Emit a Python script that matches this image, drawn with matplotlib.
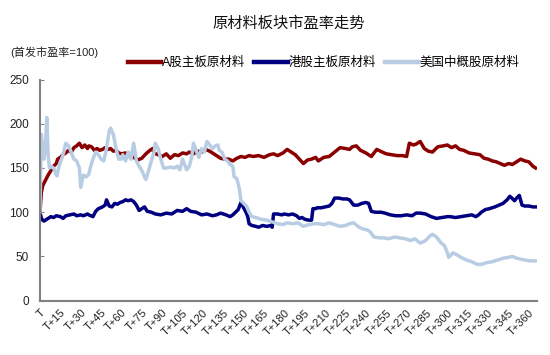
import matplotlib
matplotlib.use('Agg')
import matplotlib.pyplot as plt

plt.rcParams['font.family'] = ['Liberation Sans', 'Noto Sans CJK SC', 'DejaVu Sans']

# (day, value)
a_pts = [(0, 100), (1, 122), (2, 130), (4, 136), (6, 142), (8, 147), (10, 152), (12, 155),
         (13, 160), (15, 162), (17, 165), (19, 167), (21, 170), (23, 168), (25, 173), (27, 175),
         (29, 178), (31, 173), (33, 176), (35, 172), (36, 175), (38, 174), (40, 170), (42, 172),
         (44, 170), (46, 171), (48, 173), (50, 171), (52, 172), (54, 169), (56, 170), (58, 167),
         (60, 166), (63, 167), (66, 163), (69, 162), (72, 159), (75, 161), (78, 166), (81, 170),
         (83, 172), (84, 167), (87, 165), (90, 163), (93, 166), (96, 161), (99, 165), (102, 164),
         (105, 167), (108, 166), (110, 168), (113, 166), (116, 169), (119, 168), (122, 171),
         (125, 169), (128, 166), (131, 163), (133, 161), (136, 160), (139, 160), (142, 158),
         (145, 161), (148, 163), (151, 162), (154, 164), (157, 163), (161, 164), (165, 162),
         (169, 165), (172, 166), (175, 164), (179, 167), (182, 171), (185, 168), (188, 165),
         (191, 160), (194, 155), (197, 159), (200, 160), (203, 162), (205, 158), (209, 162),
         (213, 163), (217, 168), (221, 173), (225, 172), (228, 171), (230, 174), (233, 175),
         (236, 170), (240, 167), (244, 163), (248, 171), (252, 168), (255, 166), (259, 165),
         (263, 164), (267, 164), (270, 163), (272, 178), (275, 176), (277, 177), (280, 180),
         (283, 172), (286, 169), (289, 168), (293, 174), (297, 175), (300, 176), (303, 173),
         (306, 175), (309, 171), (312, 170), (316, 167), (320, 166), (324, 165), (327, 161),
         (330, 160), (333, 158), (336, 157), (339, 155), (342, 153), (345, 155), (348, 154),
         (351, 157), (354, 160), (357, 158), (360, 157), (363, 152), (365, 150)]

h_pts = [(0, 100), (1, 93), (2, 91), (3, 90), (5, 92), (8, 95), (10, 94), (12, 96), (15, 95),
         (17, 93), (19, 96), (22, 97), (25, 98), (27, 96), (30, 97), (32, 96), (35, 98), (36, 97),
         (39, 95), (41, 101), (43, 104), (46, 106), (48, 108), (49, 114), (51, 107), (53, 106),
         (55, 110), (57, 109), (59, 111), (61, 112), (63, 114), (65, 113), (67, 114), (69, 112),
         (71, 108), (73, 102), (75, 104), (77, 106), (79, 101), (82, 100), (85, 98), (89, 97),
         (93, 99), (97, 98), (101, 102), (105, 101), (108, 104), (111, 101), (115, 100),
         (119, 97), (123, 98), (127, 96), (130, 97), (133, 99), (137, 97), (140, 95), (142, 97),
         (144, 100), (146, 103), (148, 111), (150, 105), (152, 99), (153, 95), (154, 87),
         (156, 85), (159, 84), (161, 83), (164, 85), (167, 84), (170, 85), (171, 83), (172, 98),
         (175, 98), (178, 97), (180, 98), (183, 97), (186, 98), (189, 96), (191, 93), (193, 94),
         (195, 92), (198, 91), (200, 91), (201, 104), (203, 104), (204, 105), (207, 105),
         (210, 106), (213, 107), (215, 110), (217, 116), (220, 116), (223, 115), (226, 115),
         (228, 114), (231, 108), (234, 108), (237, 110), (240, 111), (242, 110), (244, 101),
         (247, 100), (251, 100), (254, 99), (258, 97), (262, 96), (266, 96), (270, 97),
         (274, 96), (277, 99), (280, 99), (284, 98), (288, 95), (292, 93), (296, 94), (300, 95),
         (302, 95), (306, 94), (310, 95), (314, 96), (318, 97), (321, 95), (323, 97), (325, 100),
         (328, 103), (331, 104), (335, 106), (338, 108), (341, 110), (344, 114), (346, 118),
         (347.5, 116), (349.5, 113), (351, 116), (353, 119), (355, 108), (357, 107), (360, 107),
         (363, 106), (365, 106)]

u_pts = [(0, 100), (1, 188), (2, 172), (3, 160), (4, 175), (5, 207), (6, 165), (7, 150),
         (8, 152), (10, 150), (11.5, 144), (12.5, 141), (14, 152), (17, 165), (19, 178),
         (21, 175), (23, 168), (25, 160), (27, 158), (29, 150), (30, 128), (32, 142), (34, 140),
         (36, 143), (37, 150), (39, 160), (41, 168), (43, 165), (45, 160), (47, 158), (49, 172),
         (51, 192), (52, 195), (54, 188), (56, 172), (58, 160), (60, 160), (61, 165), (63, 158),
         (65, 168), (67, 160), (69, 178), (71, 158), (73, 152), (75, 147), (77, 140), (78, 137),
         (80, 147), (82, 158), (84, 168), (85, 178), (87, 172), (89, 160), (91, 150), (93, 150),
         (96, 151), (99, 150), (101, 152), (103, 148), (105, 160), (107, 152), (108, 148),
         (110, 152), (112, 165), (113, 178), (115, 170), (117, 162), (119, 172), (121, 168),
         (123, 180), (125, 176), (127, 172), (129, 175), (131, 176), (132, 170), (134, 168),
         (136, 160), (138, 158), (140, 154), (142, 152), (143, 140), (145, 138), (147, 125),
         (148, 113), (150, 110), (152, 107), (154, 100), (156, 95), (159, 94), (163, 92),
         (167, 91), (171, 89), (175, 87), (179, 86), (182, 88), (186, 87), (190, 88), (194, 84),
         (198, 86), (202, 87), (205, 87), (209, 86), (213, 88), (217, 86), (221, 84), (225, 85),
         (228, 87), (231, 88), (235, 83), (238, 81), (241, 80), (243, 78), (246, 72), (250, 71),
         (253, 71), (257, 70), (261, 72), (265, 71), (269, 70), (273, 68), (276, 70), (280, 65),
         (284, 68), (287, 73), (289, 75), (292, 72), (295, 66), (298, 62), (300, 54), (301, 49),
         (304, 54), (307, 52), (310, 49), (314, 46), (318, 44), (322, 41), (325, 41), (329, 43),
         (333, 44), (337, 46), (341, 48), (345, 49), (348, 50), (351, 48), (354, 47), (357, 46),
         (361, 45), (365, 45)]

series_names = ['A股主板原材料', '港股主板原材料', '美国中概股原材料']
series_colors = ['#8B0000', '#000080', '#B8CCE4']

x_ticks = list(range(0, 361, 15))
x_labels = ['T'] + ['T+%d' % t for t in x_ticks[1:]]
y_ticks = [0, 50, 100, 150, 200, 250]

fig = plt.figure(figsize=(5.5, 3.55), dpi=100)
ax = fig.add_axes([0.0727, 0.153, 0.9036, 0.623])

for pts, name, c in zip([a_pts, h_pts, u_pts], series_names, series_colors):
    days = [p[0] for p in pts]
    vals = [p[1] for p in pts]
    ax.plot(days, vals, color=c, lw=2.5, label=name)

ax.set_xlim(0, 366)
ax.set_ylim(0, 250)
ax.set_yticks(y_ticks)
ax.set_xticks(x_ticks)
ax.set_xticklabels(x_labels, rotation=45, ha='right', rotation_mode='anchor', fontsize=8)
ax.tick_params(axis='y', direction='in', length=3, color='#808080', labelsize=8.5,
               labelcolor='#222222', pad=8)
ax.tick_params(axis='x', length=0, labelsize=8, labelcolor='#222222', pad=5)

for s in ['top', 'right']:
    ax.spines[s].set_visible(False)
for s in ['left', 'bottom']:
    ax.spines[s].set_color('#808080')
    ax.spines[s].set_linewidth(1.5)

fig.text(0.525, 0.933, '原材料板块市盈率走势', ha='center', va='center', fontsize=11,
         color='#111111')
fig.text(0.019, 0.852, '(首发市盈率=100)', ha='left', va='center', fontsize=8,
         color='#222222')
leg = fig.legend(loc='center', bbox_to_anchor=(0.588, 0.822), ncol=3, frameon=False,
                 fontsize=9, handlelength=2.7, handletextpad=0.05, columnspacing=0.7)
for line in leg.get_lines():
    line.set_linewidth(3.2)

fig.savefig('out.png', dpi=100)
